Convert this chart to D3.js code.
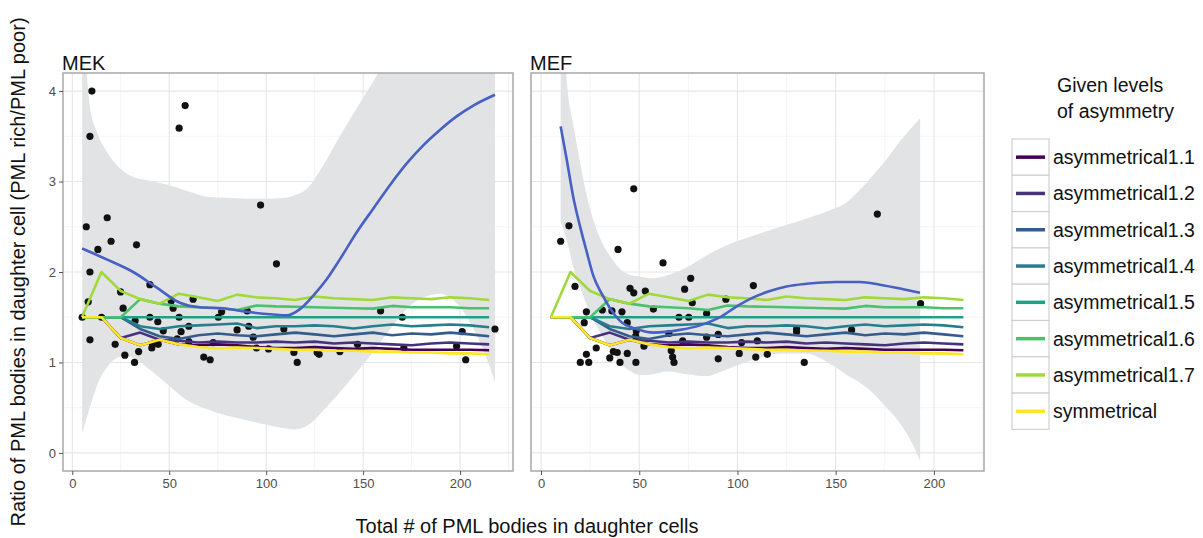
<!DOCTYPE html>
<html><head><meta charset="utf-8">
<script src="https://cdn.jsdelivr.net/npm/d3@7"></script>
<style>body{margin:0;background:#fff;} svg text{font-family:Arial,"Liberation Sans",sans-serif;}</style>
</head><body>
<svg id="c" width="1203" height="538"></svg>
<script>
// ---------- data ----------
const xTicks=[0,50,100,150,200];
const yTicks=[0,1,2,3,4];
const xMinor=[25,75,125,175,225];
const yMinor=[0.5,1.5,2.5,3.5];
const panelNames=["MEK","MEF"];
const seriesNames=["asymmetrical1.1","asymmetrical1.2","asymmetrical1.3","asymmetrical1.4","asymmetrical1.5","asymmetrical1.6","asymmetrical1.7","symmetrical"];
const seriesColors=["#440154","#46337E","#365C8D","#277F8E","#1FA187","#4AC16D","#9FDA3A","#FDE725"];
const legendTitle=["Given levels","of asymmetry"];
const xTitle="Total # of PML bodies in daughter cells";
const yTitle="Ratio of PML bodies in daughter cell (PML rich/PML poor)";

// simulated levels (same in both panels)
const simX=[5,15,25,35,45,55,65,75,85,95,105,115,125,135,145,155,165,175,185,195,205,215];
const sim11=[1.5,1.5,1.27,1.19,1.25,1.20,1.19,1.20,1.19,1.17,1.16,1.16,1.17,1.16,1.15,1.16,1.15,1.14,1.14,1.14,1.14,1.135];
const sim12=[1.5,1.5,1.27,1.33,1.25,1.24,1.22,1.23,1.22,1.22,1.23,1.22,1.23,1.21,1.22,1.21,1.20,1.19,1.21,1.22,1.21,1.20];
const sim13=[1.5,1.5,1.5,1.37,1.29,1.26,1.30,1.32,1.30,1.29,1.31,1.33,1.31,1.29,1.31,1.33,1.30,1.32,1.31,1.33,1.31,1.29];
const sim14=[1.5,1.5,1.5,1.40,1.37,1.40,1.41,1.42,1.43,1.38,1.40,1.40,1.41,1.40,1.375,1.40,1.42,1.40,1.41,1.42,1.41,1.39];
const sim15=[1.5,1.5,1.5,1.5,1.5,1.5,1.5,1.5,1.5,1.5,1.5,1.5,1.5,1.5,1.5,1.5,1.5,1.5,1.5,1.5,1.5,1.5];
const sim16=[1.5,1.5,1.5,1.70,1.65,1.62,1.61,1.60,1.58,1.63,1.62,1.615,1.61,1.605,1.60,1.595,1.625,1.61,1.61,1.61,1.60,1.60];
const sim17=[1.5,2.0,1.79,1.70,1.65,1.76,1.72,1.68,1.75,1.72,1.71,1.69,1.73,1.71,1.70,1.69,1.72,1.71,1.70,1.72,1.71,1.69];
const simSym=[1.5,1.5,1.27,1.19,1.25,1.20,1.17,1.155,1.165,1.16,1.15,1.14,1.14,1.13,1.13,1.12,1.12,1.11,1.11,1.10,1.10,1.09];

// MEK observations
const mekX=[5.1,10.1,9.1,7.2,9.1,8.2,9.1,13.2,18,20,15.1,22.1,24.9,26.2,27.1,32.1,33.1,32.4,34.2,40,40,41,41.4,44.1,44.3,46.9,51,52,55.1,58.2,55.1,56.1,54.1,60.1,60.1,62.3,67.8,71.1,72.7,75.3,77,85,90.2,91,93.3,95,97.1,101.2,105.3,109.1,114.3,116,126.3,127.3,138,147.1,159,170.2,171,198.2,201.1,202.9,218];
const mekY=[1.50,4.0,3.5,2.5,2.0,1.67,1.25,2.25,2.6,2.34,1.5,1.2,1.78,1.6,1.08,1.0,2.3,1.46,1.12,1.86,1.5,1.16,1.2,1.45,1.2,1.35,1.68,1.6,3.59,3.84,1.5,1.34,1.26,1.4,1.23,1.7,1.06,1.03,1.22,1.5,1.56,1.36,1.57,1.4,1.28,1.16,2.74,1.15,2.09,1.37,1.11,1.0,1.11,1.09,1.12,1.2,1.57,1.5,1.16,1.18,1.34,1.03,1.37];
// MEK loess fit
const mekFitX=[5.1,17.7,31.4,43.4,55.5,65.8,77.8,89.9,103.6,110.5,117.4,124.3,131.2,138,146.7,155.2,163.8,172.5,181,189.6,198.2,206.8,218];
const mekFitY=[2.26,2.14,2.00,1.83,1.66,1.61,1.60,1.56,1.53,1.52,1.59,1.74,1.92,2.14,2.44,2.70,2.96,3.20,3.40,3.57,3.72,3.84,3.96];
const mekBandX=[5.1,9,13,18,23,28,33,40,44,50,60,70,80,90,100,110,115,121,130,138,147,155,164,172,181,190,198,207,214,218];
const mekLo=[0.22,0.50,0.76,0.95,1.05,1.07,1.03,0.92,0.85,0.74,0.57,0.48,0.41,0.36,0.31,0.27,0.26,0.30,0.48,0.67,0.90,1.11,1.37,1.58,1.72,1.76,1.66,1.37,1.03,0.78];
const mekHi=[5.0,3.84,3.53,3.32,3.18,3.09,3.04,3.01,2.99,2.96,2.89,2.83,2.82,2.81,2.81,2.82,2.85,2.92,3.20,3.50,3.82,4.10,4.45,4.8,5.2,5.6,6.0,6.4,6.8,7.0];

// MEF observations
const mefX=[10.0,14.2,17.3,23.1,22.0,20.0,24.3,23.1,28.1,31.2,36.1,35.0,36.8,38.8,40.2,39.2,41.2,43.9,43.9,45.3,47.2,47.2,48.2,48.3,48.5,52.4,53.1,57.2,62.1,65.1,66.3,67.0,67.7,70.2,72.1,73.1,75.2,76.2,77.0,84.3,84.3,90.2,90.2,94.1,100.9,102.1,108.1,109.3,110.1,115.2,130.1,130.1,134.0,158.1,171.2,193.2];
const mefY=[2.34,2.51,1.84,1.56,1.44,1.00,1.00,1.09,1.16,1.58,1.57,1.05,1.12,1.11,1.00,2.25,1.56,1.44,1.10,1.82,1.77,2.92,1.29,1.00,1.35,1.18,1.79,1.59,2.10,1.32,1.13,1.06,1.00,1.50,1.24,1.81,1.50,1.93,1.66,1.28,1.54,1.04,1.31,1.70,1.10,1.22,1.85,1.06,1.24,1.09,1.37,1.34,1.00,1.36,2.64,1.65];
const mefFitX=[10,13.1,16.4,19.8,23.3,26.6,30.9,35.1,40.2,48.7,57.2,70.7,80.9,91.1,99.6,108.1,116.5,125,135.2,150.5,162.3,172.5,184.4,192.9];
const mefFitY=[3.61,3.24,2.83,2.51,2.22,1.96,1.76,1.60,1.46,1.37,1.33,1.36,1.41,1.50,1.62,1.72,1.79,1.84,1.87,1.89,1.89,1.86,1.81,1.77];
const mefBandX=[10,13,16.5,20,23,27,31,35,40,45,50,57,64,74,84,94,108,122,135,142,149,155,162,169,176,183,190,193];
const mefLo=[2.55,2.36,2.05,1.83,1.65,1.45,1.30,1.15,1.00,0.91,0.86,0.87,0.90,0.87,0.85,0.92,1.03,1.10,1.10,1.05,0.96,0.87,0.78,0.66,0.50,0.32,0.06,-0.09];
const mefHi=[5.5,4.15,3.62,3.20,2.87,2.55,2.33,2.18,2.04,1.97,1.95,1.93,1.96,2.05,2.18,2.29,2.40,2.50,2.59,2.64,2.70,2.76,2.90,3.07,3.25,3.45,3.63,3.70];

// ---------- build ----------
const sims=[sim11,sim12,sim13,sim14,sim15,sim16,sim17,simSym];
const panels=[
  {name:panelNames[0],x0:63,x1:513,dom:[-4.8,227.3],px:mekX,py:mekY,fx:mekFitX,fy:mekFitY,bx:mekBandX,lo:mekLo,hi:mekHi},
  {name:panelNames[1],x0:531,x1:984,dom:[-5.1,225.5],px:mefX,py:mefY,fx:mefFitX,fy:mefFitY,bx:mefBandX,lo:mefLo,hi:mefHi}
];
const pTop=73, pBottom=471;
const svg=d3.select("#c");
const y=d3.scaleLinear().domain([-0.2,4.2]).range([pBottom,pTop]);

panels.forEach((p,pi)=>{
  const x=d3.scaleLinear().domain(p.dom).range([p.x0,p.x1]);
  const g=svg.append("g");
  const cid="clip"+pi;
  svg.append("clipPath").attr("id",cid).append("rect").attr("x",p.x0).attr("y",pTop).attr("width",p.x1-p.x0).attr("height",pBottom-pTop);
  g.append("rect").attr("x",p.x0).attr("y",pTop).attr("width",p.x1-p.x0).attr("height",pBottom-pTop).attr("fill","#fff");
  // grid
  g.selectAll(".xm").data(xMinor.filter(v=>v>=p.dom[0]&&v<=p.dom[1])).enter().append("line")
    .attr("x1",d=>x(d)).attr("x2",d=>x(d)).attr("y1",pTop).attr("y2",pBottom).attr("stroke","#f2f2f2").attr("stroke-width",0.8);
  g.selectAll(".ym").data(yMinor).enter().append("line")
    .attr("y1",d=>y(d)).attr("y2",d=>y(d)).attr("x1",p.x0).attr("x2",p.x1).attr("stroke","#f2f2f2").attr("stroke-width",0.8);
  g.selectAll(".xg").data(xTicks).enter().append("line")
    .attr("x1",d=>x(d)).attr("x2",d=>x(d)).attr("y1",pTop).attr("y2",pBottom).attr("stroke","#e6e6e6").attr("stroke-width",1.1);
  g.selectAll(".yg").data(yTicks).enter().append("line")
    .attr("y1",d=>y(d)).attr("y2",d=>y(d)).attr("x1",p.x0).attr("x2",p.x1).attr("stroke","#e6e6e6").attr("stroke-width",1.1);

  const cg=g.append("g").attr("clip-path",`url(#${cid})`);
  // ribbon
  const band=p.bx.map((v,i)=>({x:v,lo:p.lo[i],hi:p.hi[i]}));
  cg.append("path").datum(band)
    .attr("d",d3.area().x(d=>x(d.x)).y0(d=>y(d.lo)).y1(d=>y(d.hi)).curve(d3.curveMonotoneX))
    .attr("fill","#e2e3e5");
  // points
  cg.selectAll("circle").data(p.px.map((v,i)=>[v,p.py[i]])).enter().append("circle")
    .attr("cx",d=>x(d[0])).attr("cy",d=>y(d[1])).attr("r",3.6).attr("fill","#111");
  // sim lines
  sims.forEach((arr,si)=>{
    cg.append("path").datum(simX.map((v,i)=>[v,arr[i]]))
      .attr("d",d3.line().x(d=>x(d[0])).y(d=>y(d[1])))
      .attr("fill","none").attr("stroke",seriesColors[si]).attr("stroke-width",2.6).attr("stroke-linejoin","round");
  });
  // fit
  cg.append("path").datum(p.fx.map((v,i)=>[v,p.fy[i]]))
    .attr("d",d3.line().x(d=>x(d[0])).y(d=>y(d[1])).curve(d3.curveMonotoneX))
    .attr("fill","none").attr("stroke","#4660C4").attr("stroke-width",2.6);
  // border
  g.append("rect").attr("x",p.x0).attr("y",pTop).attr("width",p.x1-p.x0).attr("height",pBottom-pTop)
    .attr("fill","none").attr("stroke","#a8a8a8").attr("stroke-width",1.5);
  // x axis
  const xa=g.append("g").attr("transform",`translate(0,${pBottom})`)
    .call(d3.axisBottom(x).tickValues(xTicks).tickSize(4).tickPadding(4).tickFormat(d3.format("d")));
  xa.select(".domain").remove();
  xa.selectAll("line").attr("stroke","#555");
  xa.selectAll("text").attr("font-size",13).attr("fill","#4d4d4d").attr("font-family","Arial, Liberation Sans, sans-serif");
  // y axis only first panel
  if(pi===0){
    const ya=g.append("g").attr("transform",`translate(${p.x0},0)`)
      .call(d3.axisLeft(y).tickValues(yTicks).tickSize(4).tickPadding(3).tickFormat(d3.format("d")));
    ya.select(".domain").remove();
    ya.selectAll("line").attr("stroke","#555");
    ya.selectAll("text").attr("font-size",13).attr("fill","#4d4d4d").attr("font-family","Arial, Liberation Sans, sans-serif");
  }
  // strip
  g.append("text").attr("x",p.x0-1).attr("y",70).attr("font-size",20).attr("fill","#111").text(p.name);
});

// axis titles
svg.append("text").attr("x",527).attr("y",533).attr("text-anchor","middle").attr("font-size",20).attr("fill","#111").text(xTitle);
svg.append("text").attr("transform","translate(25,272) rotate(-90)").attr("text-anchor","middle").attr("font-size",20).attr("fill","#111").text(yTitle);

// legend
const lg=svg.append("g");
legendTitle.forEach((t,i)=>lg.append("text").attr("x",1057).attr("y",92+i*26).attr("font-size",19.5).attr("fill","#111").text(t));
const keyTop=139, keyH=36.3;
seriesNames.forEach((s,i)=>{
  const yy=keyTop+i*keyH;
  lg.append("rect").attr("x",1012).attr("y",yy).attr("width",37).attr("height",keyH).attr("fill","#fff").attr("stroke","#d0d0d0").attr("stroke-width",1.2);
  lg.append("line").attr("x1",1016).attr("x2",1045).attr("y1",yy+keyH/2).attr("y2",yy+keyH/2).attr("stroke",seriesColors[i]).attr("stroke-width",3.5);
  lg.append("text").attr("x",1053).attr("y",yy+keyH/2).attr("dy","0.36em").attr("font-size",19.5).attr("fill","#111").text(s);
});
</script>
</body></html>
